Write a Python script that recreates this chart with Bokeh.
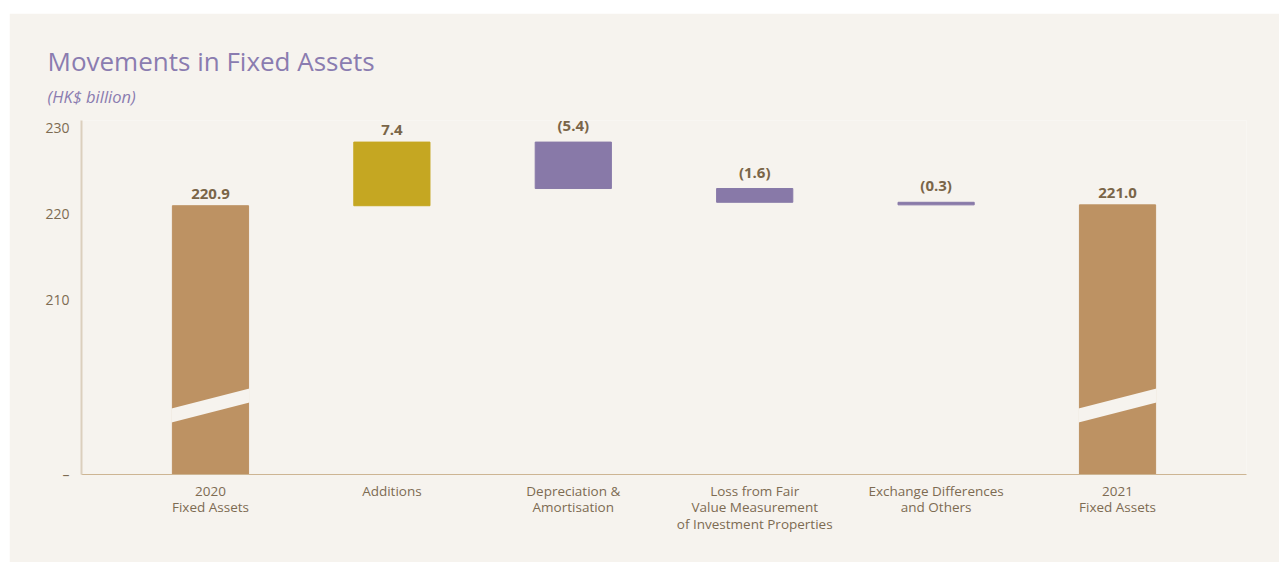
from bokeh.plotting import figure
from bokeh.models import ColumnDataSource, FixedTicker, Range1d, Title
from bokeh.embed import file_html
from bokeh.resources import INLINE

# ---- data ----
title_text = "Movements in Fixed Assets"
subtitle_text = "(HK$ billion)"
categories = ["2020\nFixed Assets", "Additions", "Depreciation &\nAmortisation",
              "Loss from Fair\nValue Measurement\nof Investment Properties",
              "Exchange Differences\nand Others", "2021\nFixed Assets"]
values = [220.9, 7.4, -5.4, -1.6, -0.3, 221.0]
kinds = ["total", "up", "down", "down", "down", "total"]
value_labels = ["220.9", "7.4", "(5.4)", "(1.6)", "(0.3)", "221.0"]
y_ticks = [210, 220, 230]

# ---- style ----
BG = "#f6f3ee"
COLORS = {"total": "#bd9263", "up": "#c5a722", "down": "#8879a8"}
TEXT = "#7d6b52"
VALUE_TEXT = "#7a6548"
TITLE_C = "#8a7cb0"
Y0, Y1 = 189.65, 230.81
BAR_W = 0.42
BREAK_Y, BREAK_RISE, BREAK_GAP = 195.7, 2.32, 1.63

xs = list(range(len(categories)))
bottoms, tops = [], []
running = 0.0
for v, k in zip(values, kinds):
    if k == "total":
        bottoms.append(Y0 - 5)
        tops.append(v)
        running = v
    else:
        start = running
        running = running + v
        bottoms.append(min(start, running))
        tops.append(max(start, running))

src = ColumnDataSource(dict(x=xs, bottom=bottoms, top=tops,
                            color=[COLORS[k] for k in kinds],
                            label=value_labels))

p = figure(width=1270, height=549, output_backend="svg", toolbar_location=None,
           x_range=Range1d(-0.711, 5.711), y_range=Range1d(Y0, Y1),
           min_border_left=72, min_border_right=33, min_border_top=107,
           min_border_bottom=88)
p.margin = (13, 0, 0, 9)
p.background_fill_color = BG
p.border_fill_color = BG
p.outline_line_color = None
p.grid.visible = False

sub = Title(text=subtitle_text, text_font="Open Sans", text_font_style="italic",
            text_font_size="16.5px", text_color=TITLE_C, align="left", offset=-34,
            standoff=26)
p.add_layout(sub, "above")
ttl = Title(text=title_text, text_font="Open Sans",
            text_font_style="normal", text_font_size="26px", text_color=TITLE_C,
            align="left", offset=-34, standoff=-18)
p.add_layout(ttl, "above")

p.vbar(x="x", bottom="bottom", top="top", width=BAR_W, color="color", source=src)

# axis-break stripes on the total bars
bx, by = [], []
for x, k in zip(xs, kinds):
    if k == "total":
        l, r = x - BAR_W / 2 - 0.005, x + BAR_W / 2 + 0.005
        bx.append([l, r, r, l])
        by.append([BREAK_Y, BREAK_Y + BREAK_RISE, BREAK_Y + BREAK_RISE + BREAK_GAP,
                   BREAK_Y + BREAK_GAP])
p.patches(bx, by, fill_color=BG, line_color=None)

p.text(x="x", y="top", text="label", source=src, text_align="center",
       text_baseline="bottom", y_offset=-7, text_font_size="15px",
       text_font_style="bold", text_color=VALUE_TEXT,
       text_font={"value": "Open Sans"})

# axes
p.yaxis.ticker = FixedTicker(ticks=[Y0] + y_ticks)
p.yaxis.major_label_overrides = {Y0: "–"}
p.yaxis.axis_line_color = "#dbcfbd"
p.yaxis.axis_line_width = 2
p.yaxis.major_tick_line_color = None
p.yaxis.minor_tick_line_color = None
p.yaxis.major_label_standoff = 6
p.yaxis.major_label_text_font = "Open Sans"
p.yaxis.major_label_text_font_size = "14px"
p.yaxis.major_label_text_color = TEXT

p.xaxis.ticker = FixedTicker(ticks=xs)
p.xaxis.major_label_overrides = {x: c for x, c in zip(xs, categories)}
p.xaxis.axis_line_color = "#cdb593"
p.xaxis.axis_line_width = 1.2
p.xaxis.major_tick_line_color = None
p.xaxis.minor_tick_line_color = None
p.xaxis.major_label_standoff = 1
p.xaxis.major_label_text_font = "Open Sans"
p.xaxis.major_label_text_font_size = "13.5px"
p.xaxis.major_label_text_color = TEXT
p.xaxis.major_label_text_line_height = 0.94

open("out.html", "w").write(file_html(p, INLINE))
